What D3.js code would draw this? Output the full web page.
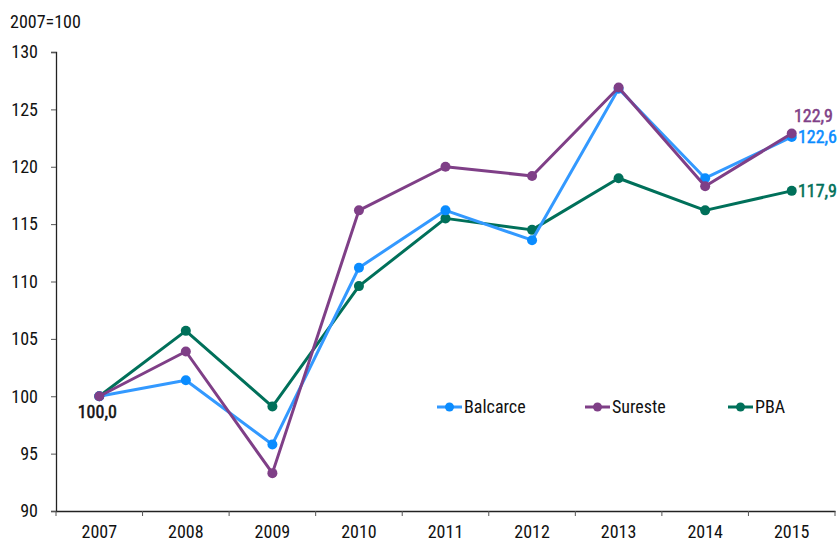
<!DOCTYPE html>
<html>
<head>
<meta charset="utf-8">
<script src="https://cdn.jsdelivr.net/npm/d3@7"></script>
<style>
  body { margin: 0; background: #fff; }
  svg text { font-family: "Roboto Condensed", "DejaVu Sans Condensed", "Roboto", sans-serif; }
</style>
</head>
<body>
<svg id="chart" width="838" height="542"></svg>
<script>
var years = ["2007", "2008", "2009", "2010", "2011", "2012", "2013", "2014", "2015"]
var balcarce = [100, 101.4, 95.8, 111.2, 116.2, 113.6, 126.8, 119.0, 122.6]
var sureste = [100, 103.9, 93.3, 116.2, 120.0, 119.2, 126.9, 118.3, 122.9]
var pba = [100, 105.7, 99.1, 109.6, 115.5, 114.5, 119.0, 116.2, 117.9]
var yTicks = [90, 95, 100, 105, 110, 115, 120, 125, 130]

var series = [
    {name: "Balcarce", values: balcarce, color: "#3399ff", dot: "#0a8cff"},
    {name: "Sureste", values: sureste, color: "#7f3f87", dot: "#7f3f87"},
    {name: "PBA", values: pba, color: "#00705a", dot: "#00705a"}
]

var svg = d3.select("#chart")
const mLeft = 56, mRight = 835, mTop = 52, mBottom = 511
const fs = "18px"

var x = d3.scaleBand()
    .domain(years)
    .range([mLeft, mRight])

var y = d3.scaleLinear()
    .domain([90, 130])
    .range([mBottom, mTop])

// y axis
var yAxis = d3.axisLeft(y)
    .tickValues(yTicks)
    .tickSize(5)
    .tickPadding(13)

var gy = svg.append("g")
    .attr("transform", "translate(" + mLeft + ",0)")
    .call(yAxis)
gy.select(".domain").attr("stroke", "#222").attr("stroke-width", 1.3)
gy.selectAll(".tick line").attr("stroke", "#555")
gy.selectAll("text")
    .style("font-size", fs)
    .attr("fill", "#111")

// x axis
var xAxis = d3.axisBottom(x).tickSize(0).tickPadding(14)
var gx = svg.append("g")
    .attr("transform", "translate(0," + mBottom + ")")
    .call(xAxis)
gx.select(".domain").attr("stroke", "#222").attr("stroke-width", 1.3)
gx.selectAll("text")
    .style("font-size", fs)
    .attr("fill", "#111")
    .attr("dy", "0.71em")

// ticks between categories
var bounds = years.map(function(d) { return x(d) }).concat([x(years[years.length - 1]) + x.bandwidth()])
gx.selectAll(".sep")
    .data(bounds)
    .enter()
    .append("line")
    .attr("x1", function(d) { return d })
    .attr("x2", function(d) { return d })
    .attr("y1", 0)
    .attr("y2", 5)
    .attr("stroke", "#555")

svg.append("text")
    .attr("x", 10)
    .attr("y", 28)
    .style("font-size", fs)
    .attr("fill", "#111")
    .text("2007=100")

var line = d3.line()
    .x(function(d, i) { return x(years[i]) + x.bandwidth() / 2 })
    .y(function(d) { return y(d) })

// draw PBA first, then Balcarce, Sureste on top
var order = [series[2], series[0], series[1]]
order.forEach(function(s) {
    svg.append("path")
        .datum(s.values)
        .attr("fill", "none")
        .attr("stroke", s.color)
        .attr("stroke-width", 3)
        .attr("stroke-linejoin", "round")
        .attr("d", line)
    svg.selectAll(null)
        .data(s.values)
        .enter()
        .append("circle")
        .attr("cx", function(d, i) { return x(years[i]) + x.bandwidth() / 2 })
        .attr("cy", function(d) { return y(d) })
        .attr("r", 5)
        .attr("fill", s.dot)
})

// labels
var last = years.length - 1
var fmt = function(v) { return v.toFixed(1).replace(".", ",") }
svg.append("text")
    .attr("x", x(years[0]) + x.bandwidth() / 2 - 2)
    .attr("y", y(100) + 22)
    .attr("text-anchor", "middle")
    .style("font-size", fs)
    .attr("fill", "#111")
    .attr("stroke", "#111")
    .attr("stroke-width", 0.5)
    .text(fmt(100))

var endLabels = [
    {s: series[1], xEnd: 833, dy: -11},
    {s: series[0], xEnd: 837, dy: 6},
    {s: series[2], xEnd: 837, dy: 6}
]
endLabels.forEach(function(l) {
    svg.append("text")
        .attr("x", l.xEnd)
        .attr("y", y(l.s.values[last]) + l.dy)
        .attr("text-anchor", "end")
        .style("font-size", fs)
        .attr("fill", l.s.dot)
        .attr("stroke", l.s.dot)
        .attr("stroke-width", 0.5)
        .text(fmt(l.s.values[last]))
})

// legend
var legendX = [437, 585, 728]
var legendY = 407
series.forEach(function(s, i) {
    var g = svg.append("g").attr("transform", "translate(" + legendX[i] + "," + legendY + ")")
    g.append("line")
        .attr("x1", 0).attr("x2", 25)
        .attr("stroke", s.color)
        .attr("stroke-width", 3)
    g.append("circle")
        .attr("cx", 12.5)
        .attr("r", 4.5)
        .attr("fill", s.dot)
    g.append("text")
        .attr("x", 27)
        .attr("dy", "0.35em")
        .style("font-size", fs)
        .attr("fill", "#111")
        .text(s.name)
})
</script>
</body>
</html>
